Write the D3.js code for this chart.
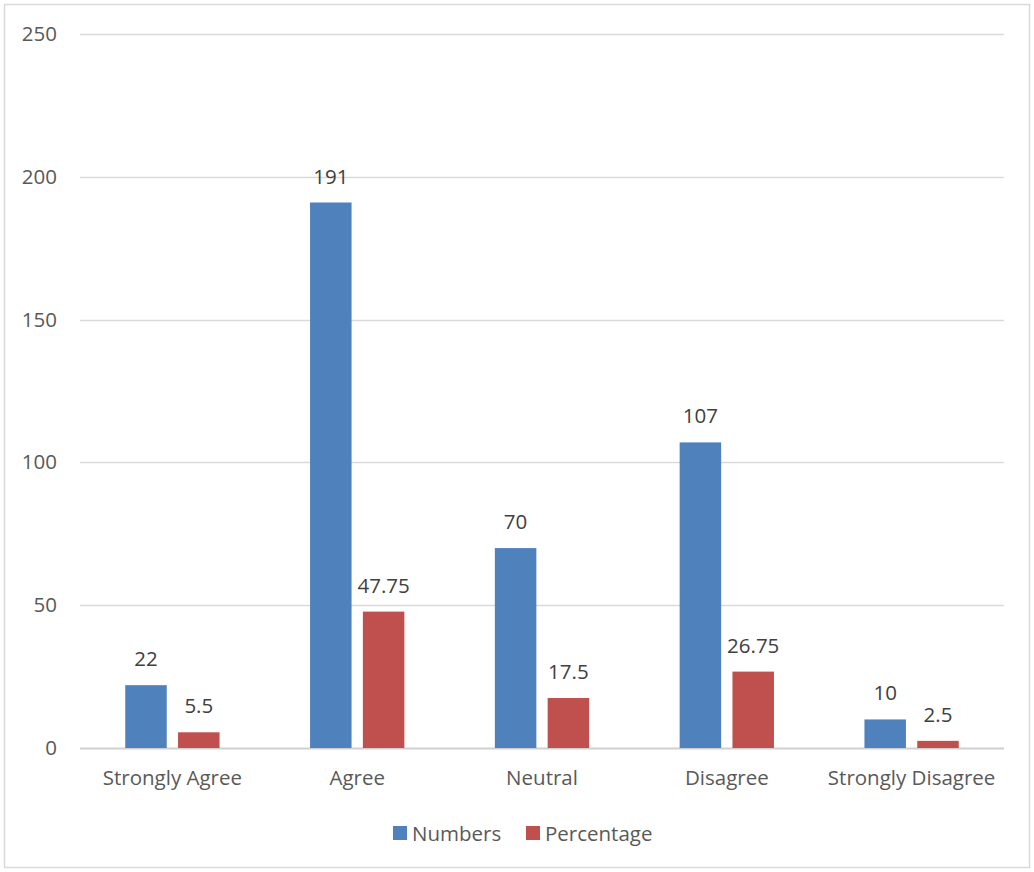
<!DOCTYPE html>
<html>
<head>
<meta charset="utf-8">
<script src="https://cdn.jsdelivr.net/npm/d3@7"></script>
<style>
  html, body { margin: 0; padding: 0; background: #fff; }
  svg { display: block; }
  text { font-family: "Open Sans", "Liberation Sans", sans-serif; }
</style>
</head>
<body>
<svg id="chart" width="1034" height="872"></svg>
<script>
// Survey responses per answer option
const categories = ["Strongly Agree", "Agree", "Neutral", "Disagree", "Strongly Disagree"];
const numbers = [22, 191, 70, 107, 10];
const percentage = [5.5, 47.75, 17.5, 26.75, 2.5];
const seriesNames = ["Numbers", "Percentage"];
const seriesColors = ["#4f81bd", "#c0504d"];
const yTicks = [0, 50, 100, 150, 200, 250];

const W = 1034, H = 872;
const FS = 20.5;
const margin = { left: 80, right: 30, top: 34, bottom: 124 };
const svg = d3.select("#chart");

// outer frame
svg.append("rect")
  .attr("x", 4.5).attr("y", 4.5)
  .attr("width", W - 9).attr("height", H - 9)
  .attr("fill", "#fff").attr("stroke", "#d9d9d9").attr("stroke-width", 1.5);

const x = d3.scaleBand().domain(categories).range([margin.left, W - margin.right]);
const y = d3.scaleLinear().domain([0, 250]).range([H - margin.bottom, margin.top]);

// horizontal gridlines
svg.append("g").selectAll("line").data(yTicks).join("line")
  .attr("x1", margin.left).attr("x2", W - margin.right)
  .attr("y1", d => Math.round(y(d)) + 0.5).attr("y2", d => Math.round(y(d)) + 0.5)
  .attr("stroke", d => d === 0 ? "#d0d0d0" : "#d9d9d9")
  .attr("stroke-width", d => d === 0 ? 2 : 1.3);

// y axis labels
const yAxis = d3.axisLeft(y).tickValues(yTicks).tickSize(0).tickPadding(0);
const gy = svg.append("g").attr("transform", "translate(57,0)").call(yAxis);
gy.select(".domain").remove();
gy.selectAll("text").attr("font-size", FS).attr("fill", "#595959")
  .attr("font-family", "'Open Sans', sans-serif");

// x axis labels
const xAxis = d3.axisBottom(x).tickSize(0).tickPadding(0);
const gx = svg.append("g").attr("transform", `translate(0,${H - margin.bottom + 22})`).call(xAxis);
gx.select(".domain").remove();
gx.selectAll("text").attr("font-size", FS).attr("fill", "#595959")
  .attr("font-family", "'Open Sans', sans-serif");

// grouped bars
const barW = 41.5, offset = 26.4;
const series = [numbers, percentage];
series.forEach((vals, si) => {
  const cx = c => x(c) + x.bandwidth() / 2 + (si === 0 ? -offset : offset);
  const g = svg.append("g");
  g.selectAll("rect").data(categories).join("rect")
    .attr("x", c => cx(c) - barW / 2)
    .attr("width", barW)
    .attr("y", (c, i) => y(vals[i]))
    .attr("height", (c, i) => y(0) - y(vals[i]))
    .attr("fill", seriesColors[si]);
  g.selectAll("text").data(categories).join("text")
    .attr("x", c => cx(c))
    .attr("y", (c, i) => y(vals[i]) - 19)
    .attr("text-anchor", "middle")
    .attr("font-size", FS).attr("fill", "#404040")
    .text((c, i) => vals[i]);
});

// legend
const legendItems = [
  { name: seriesNames[0], color: seriesColors[0], x: 393 },
  { name: seriesNames[1], color: seriesColors[1], x: 526 }
];
const lg = svg.append("g");
legendItems.forEach(it => {
  lg.append("rect").attr("x", it.x).attr("y", 826).attr("width", 14).attr("height", 14).attr("fill", it.color);
  lg.append("text").attr("x", it.x + 19).attr("y", 841)
    .attr("font-size", FS).attr("fill", "#595959").text(it.name);
});
</script>
</body>
</html>
